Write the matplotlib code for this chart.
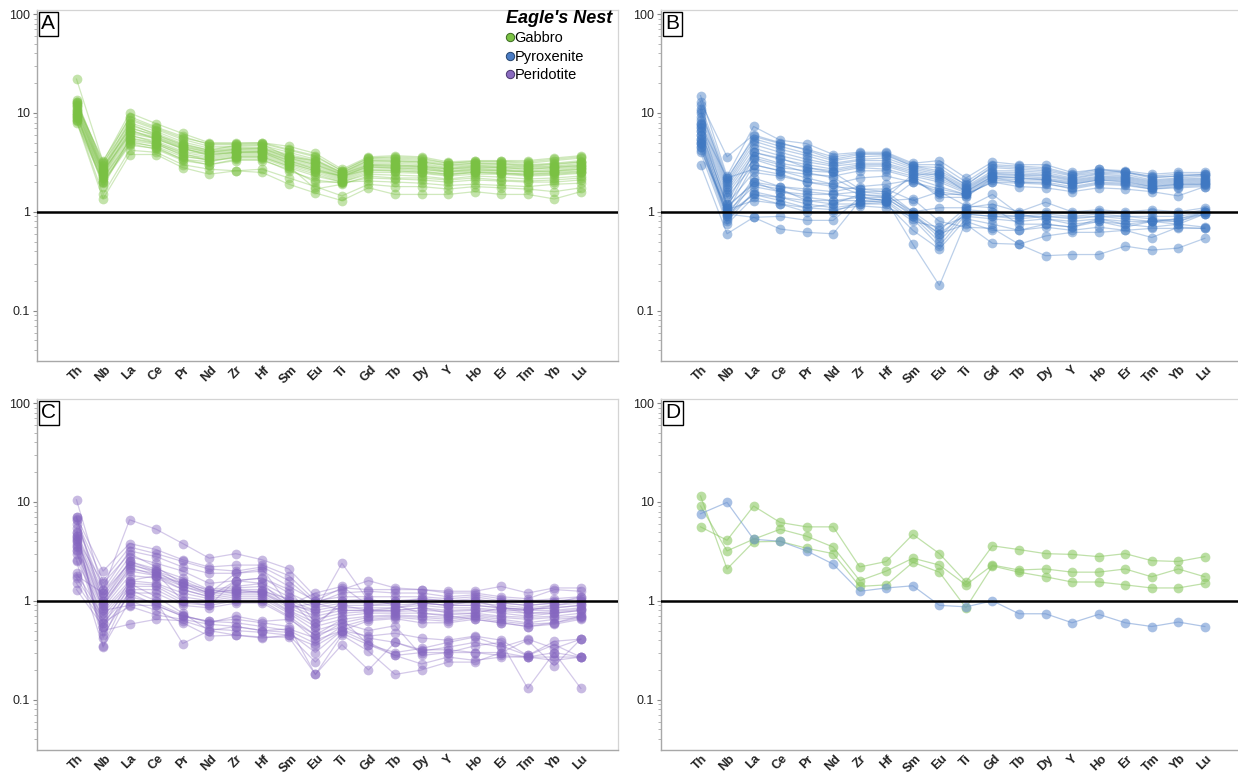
import matplotlib
matplotlib.use('Agg')
import matplotlib.pyplot as plt
import numpy as np
from matplotlib.lines import Line2D
from matplotlib.ticker import LogLocator, NullFormatter

elements = ['Th', 'Nb', 'La', 'Ce', 'Pr', 'Nd', 'Zr', 'Hf', 'Sm', 'Eu',
            'Ti', 'Gd', 'Tb', 'Dy', 'Y', 'Ho', 'Er', 'Tm', 'Yb', 'Lu']

# Panel A - Gabbro (normalised values)
gabbro = [
    [22, 3.2, 10, 7.8, 6.2, 5.0, 5.0, 5.0, 4.6, 3.9, 2.7, 3.6, 3.7, 3.6, 3.2, 3.3, 3.3, 3.3, 3.5, 3.7],
    [13.5, 3.0, 9.2, 7.2, 5.8, 4.8, 4.8, 4.9, 4.2, 3.6, 2.6, 3.5, 3.5, 3.4, 3.1, 3.2, 3.2, 3.1, 3.3, 3.5],
    [12.8, 2.8, 8.5, 6.8, 5.4, 4.6, 4.6, 4.7, 4.0, 3.4, 2.5, 3.4, 3.4, 3.3, 3.0, 3.1, 3.1, 3.0, 3.1, 3.3],
    [12.0, 2.7, 8.0, 6.5, 5.1, 4.4, 4.5, 4.5, 3.8, 3.3, 2.45, 3.3, 3.3, 3.2, 2.9, 3.0, 3.0, 2.9, 3.0, 3.2],
    [11.5, 2.6, 7.5, 6.2, 4.9, 4.2, 4.4, 4.4, 3.7, 3.2, 2.4, 3.2, 3.2, 3.1, 2.8, 2.95, 2.9, 2.85, 2.9, 3.1],
    [11.0, 2.5, 7.0, 6.0, 4.7, 4.1, 4.3, 4.3, 3.6, 3.1, 2.35, 3.1, 3.1, 3.0, 2.75, 2.9, 2.85, 2.8, 2.85, 3.0],
    [10.5, 2.4, 6.6, 5.7, 4.5, 4.0, 4.2, 4.2, 3.5, 3.0, 2.3, 3.0, 3.0, 2.9, 2.7, 2.8, 2.8, 2.7, 2.8, 2.9],
    [10.0, 2.35, 6.2, 5.5, 4.3, 3.9, 4.1, 4.1, 3.4, 2.9, 2.25, 2.95, 2.9, 2.85, 2.6, 2.75, 2.7, 2.6, 2.7, 2.85],
    [9.6, 2.3, 5.9, 5.2, 4.1, 3.8, 4.0, 4.0, 3.3, 2.8, 2.2, 2.9, 2.85, 2.8, 2.55, 2.7, 2.65, 2.55, 2.6, 2.8],
    [9.2, 2.2, 5.6, 5.0, 4.0, 3.6, 3.9, 3.9, 3.2, 2.7, 2.15, 2.8, 2.8, 2.7, 2.5, 2.6, 2.6, 2.5, 2.55, 2.7],
    [8.8, 2.1, 5.3, 4.8, 3.8, 3.5, 3.8, 3.8, 3.1, 2.6, 2.1, 2.7, 2.7, 2.6, 2.4, 2.55, 2.5, 2.4, 2.5, 2.6],
    [8.4, 2.0, 5.0, 4.6, 3.6, 3.4, 3.7, 3.7, 3.0, 2.5, 2.05, 2.6, 2.6, 2.5, 2.35, 2.5, 2.45, 2.35, 2.4, 2.5],
    [8.0, 1.95, 4.7, 4.4, 3.4, 3.2, 3.6, 3.6, 2.9, 2.4, 2.0, 2.5, 2.5, 2.45, 2.3, 2.4, 2.4, 2.3, 2.35, 2.45],
    [12.5, 2.9, 6.8, 5.4, 4.4, 3.7, 4.0, 4.1, 3.3, 2.7, 2.3, 2.85, 2.75, 2.7, 2.55, 2.65, 2.6, 2.55, 2.6, 2.7],
    [13.0, 3.1, 7.8, 6.0, 4.8, 4.2, 4.7, 4.8, 3.6, 3.3, 2.5, 3.3, 3.25, 3.2, 2.95, 3.1, 3.05, 2.95, 3.05, 3.2],
    [10.8, 2.6, 6.0, 5.0, 3.9, 3.3, 3.5, 3.5, 2.8, 2.3, 2.0, 2.4, 2.35, 2.3, 2.15, 2.3, 2.25, 2.15, 2.2, 2.3],
    [9.5, 2.2, 5.2, 4.5, 3.4, 3.0, 3.3, 3.4, 2.6, 2.1, 1.95, 2.2, 2.15, 2.1, 2.0, 2.1, 2.05, 2.0, 2.0, 2.1],
    [8.5, 1.5, 4.2, 4.0, 3.0, 2.7, 2.6, 2.7, 2.2, 1.8, 1.45, 1.9, 1.8, 1.8, 1.7, 1.8, 1.75, 1.7, 1.6, 1.75],
    [8.2, 1.35, 3.8, 3.8, 2.8, 2.4, 2.6, 2.5, 1.9, 1.55, 1.3, 1.75, 1.5, 1.5, 1.5, 1.6, 1.5, 1.5, 1.35, 1.6],
    [11.8, 2.7, 7.2, 5.8, 4.6, 4.0, 4.3, 4.4, 3.5, 3.0, 2.4, 3.0, 2.95, 2.9, 2.7, 2.85, 2.8, 2.7, 2.8, 2.95],
    [10.2, 2.5, 6.4, 5.6, 4.4, 3.8, 4.0, 4.0, 3.1, 2.6, 2.3, 2.65, 2.6, 2.55, 2.4, 2.5, 2.45, 2.4, 2.45, 2.55],
    [9.0, 2.0, 4.9, 4.3, 3.3, 3.0, 3.4, 3.3, 2.7, 2.0, 2.0, 2.05, 2.0, 1.95, 1.85, 1.9, 1.85, 1.8, 1.9, 1.95],
    [12.2, 3.3, 8.8, 7.0, 5.6, 4.9, 4.9, 5.0, 4.3, 3.7, 2.6, 3.5, 3.6, 3.5, 3.1, 3.25, 3.25, 3.2, 3.4, 3.6],
    [9.8, 1.8, 5.5, 4.9, 3.7, 3.3, 3.6, 3.6, 2.9, 1.7, 1.9, 2.3, 2.2, 2.2, 2.1, 2.2, 2.1, 2.05, 2.1, 2.2],
]

# Panel B - Pyroxenite
pyroxenite = [
    [15, 2.3, 7.3, 5.3, 4.9, 3.8, 4.0, 4.0, 3.1, 3.3, 2.2, 3.2, 3.0, 3.0, 2.5, 2.7, 2.6, 2.4, 2.5, 2.5],
    [13, 3.6, 6.0, 5.0, 4.2, 3.4, 3.8, 3.9, 3.0, 3.0, 2.0, 3.0, 2.9, 2.8, 2.4, 2.7, 2.5, 2.3, 2.4, 2.4],
    [12, 2.2, 5.5, 4.6, 3.9, 3.3, 3.6, 3.7, 2.9, 2.6, 1.9, 2.8, 2.7, 2.6, 2.3, 2.5, 2.5, 2.2, 2.3, 2.35],
    [11, 2.0, 5.2, 4.3, 3.7, 3.1, 3.4, 3.5, 2.8, 2.5, 1.8, 2.6, 2.6, 2.5, 2.2, 2.45, 2.4, 2.1, 2.2, 2.3],
    [10, 1.9, 4.8, 4.0, 3.4, 3.0, 3.3, 3.3, 2.7, 2.4, 1.75, 2.5, 2.5, 2.4, 2.15, 2.4, 2.3, 2.05, 2.15, 2.2],
    [9.2, 1.8, 4.4, 3.7, 3.2, 2.9, 3.1, 3.1, 2.6, 2.3, 1.7, 2.45, 2.4, 2.35, 2.1, 2.3, 2.25, 2.0, 2.1, 2.15],
    [8.5, 1.7, 4.0, 3.4, 3.0, 2.7, 3.0, 3.0, 2.5, 2.2, 1.65, 2.4, 2.35, 2.3, 2.05, 2.25, 2.2, 1.95, 2.05, 2.1],
    [7.8, 1.6, 3.7, 3.1, 2.8, 2.6, 2.9, 2.9, 2.4, 2.1, 1.6, 2.3, 2.3, 2.2, 2.0, 2.2, 2.15, 1.9, 2.0, 2.05],
    [7.2, 1.5, 3.4, 2.8, 2.6, 2.5, 2.8, 2.7, 2.3, 2.0, 1.55, 2.25, 2.2, 2.15, 1.95, 2.15, 2.1, 1.85, 1.95, 2.0],
    [6.5, 1.4, 3.0, 2.6, 2.4, 2.3, 2.6, 2.6, 2.2, 1.8, 1.5, 2.2, 2.1, 2.1, 1.9, 2.1, 2.05, 1.8, 1.9, 1.95],
    [6.0, 1.2, 2.5, 2.3, 2.0, 1.9, 2.2, 2.3, 2.0, 1.6, 1.45, 2.1, 2.0, 2.0, 1.8, 2.0, 1.95, 1.75, 1.85, 1.9],
    [5.5, 1.1, 2.0, 1.8, 1.7, 1.6, 1.8, 1.9, 2.1, 1.5, 1.5, 2.0, 1.95, 1.9, 1.75, 1.95, 1.9, 1.7, 1.8, 1.85],
    [5.0, 1.0, 1.8, 1.6, 1.5, 1.5, 1.6, 1.6, 2.2, 1.4, 1.4, 2.2, 2.0, 1.95, 1.7, 1.9, 1.85, 1.7, 1.75, 1.8],
    [4.5, 0.95, 1.5, 1.4, 1.3, 1.3, 1.4, 1.4, 2.4, 2.4, 1.6, 2.3, 2.2, 2.1, 1.9, 2.1, 2.0, 1.8, 1.9, 1.9],
    [4.2, 1.05, 1.3, 1.2, 1.1, 1.2, 1.2, 1.25, 2.0, 1.7, 1.5, 2.0, 1.8, 1.75, 1.6, 1.75, 1.7, 1.6, 1.45, 1.8],
    [10.5, 2.1, 5.8, 4.9, 4.3, 3.6, 3.9, 3.8, 2.9, 2.8, 1.85, 2.9, 2.8, 2.7, 2.35, 2.6, 2.55, 2.25, 2.3, 2.4],
    [8.0, 1.2, 4.0, 3.5, 2.8, 2.5, 1.7, 1.6, 1.0, 0.65, 1.1, 1.2, 1.0, 1.25, 1.0, 1.05, 1.0, 1.05, 1.0, 1.1],
    [7.0, 1.1, 3.5, 3.0, 2.5, 2.2, 1.6, 1.5, 0.95, 0.55, 1.05, 1.0, 0.95, 1.0, 0.95, 1.0, 0.95, 1.0, 0.95, 1.05],
    [6.0, 1.0, 3.0, 2.6, 2.2, 1.9, 1.5, 1.4, 0.9, 0.5, 1.0, 0.95, 0.9, 0.95, 0.9, 0.95, 0.9, 0.9, 0.9, 1.0],
    [5.5, 0.9, 2.2, 1.8, 1.6, 1.5, 1.4, 1.3, 0.85, 0.45, 0.95, 0.9, 0.85, 0.9, 0.85, 0.9, 0.85, 0.8, 0.85, 0.95],
    [5.0, 0.85, 2.0, 1.6, 1.4, 1.3, 1.3, 1.25, 0.8, 0.7, 0.9, 0.85, 0.8, 0.85, 0.8, 0.85, 0.8, 0.8, 0.8, 0.95],
    [4.5, 0.8, 1.6, 1.4, 1.2, 1.1, 1.2, 1.2, 0.65, 0.42, 0.85, 0.75, 0.65, 0.75, 0.7, 0.8, 0.75, 0.7, 0.75, 0.7],
    [4.0, 0.75, 1.4, 1.2, 1.0, 1.0, 1.25, 1.3, 0.47, 0.18, 0.8, 0.65, 0.65, 0.7, 0.65, 0.7, 0.65, 0.55, 0.7, 0.68],
    [3.0, 0.6, 0.88, 0.67, 0.62, 0.6, 1.3, 1.35, 0.95, 0.6, 0.75, 0.48, 0.47, 0.57, 0.62, 0.62, 0.65, 0.68, 0.68, 0.68],
    [5.2, 0.95, 0.88, 0.9, 0.82, 0.82, 1.4, 1.3, 1.35, 0.8, 0.7, 0.68, 0.47, 0.36, 0.37, 0.37, 0.45, 0.41, 0.43, 0.54],
    [6.5, 1.15, 1.9, 1.7, 1.3, 1.2, 1.5, 1.45, 1.0, 1.1, 1.1, 1.5, 0.95, 0.85, 0.75, 0.8, 0.7, 0.8, 0.85, 1.0],
    [7.5, 2.2, 2.7, 2.4, 2.0, 1.8, 1.7, 1.7, 1.3, 1.6, 1.15, 1.1, 0.75, 0.75, 0.7, 0.85, 0.75, 0.8, 0.75, 0.95],
    [4.8, 0.9, 1.5, 1.3, 1.1, 1.05, 1.15, 1.1, 0.9, 0.6, 0.95, 0.9, 0.9, 0.9, 0.88, 0.9, 0.9, 0.85, 0.8, 1.0],
]

# Panel C - Peridotite
peridotite = [
    [10.5, 1.3, 6.6, 5.3, 3.8, 2.7, 3.0, 2.6, 2.1, 1.1, 1.3, 1.6, 1.35, 1.3, 1.25, 1.25, 1.4, 1.2, 1.35, 1.35],
    [7.0, 2.0, 3.8, 3.3, 2.6, 2.2, 2.3, 2.3, 1.8, 1.0, 1.35, 1.3, 1.3, 1.3, 1.2, 1.2, 1.1, 1.05, 1.3, 1.25],
    [6.5, 1.6, 3.5, 3.0, 2.5, 2.1, 2.0, 2.2, 1.6, 0.95, 1.2, 1.25, 1.2, 1.2, 1.1, 1.15, 1.05, 1.0, 1.05, 1.1],
    [6.0, 1.3, 3.2, 2.8, 2.2, 1.9, 1.9, 2.0, 1.4, 1.0, 1.1, 1.1, 1.1, 1.1, 1.05, 1.1, 1.0, 0.95, 1.0, 1.05],
    [5.0, 1.2, 2.8, 2.4, 2.0, 1.5, 1.6, 1.7, 1.2, 0.9, 1.0, 1.0, 1.0, 1.05, 1.0, 1.0, 0.95, 0.9, 0.95, 1.0],
    [4.5, 1.1, 2.5, 2.1, 1.7, 1.3, 1.4, 1.5, 1.1, 0.85, 0.95, 0.95, 0.95, 1.0, 0.95, 0.95, 0.9, 0.85, 0.9, 0.95],
    [4.2, 1.0, 2.3, 2.0, 1.6, 1.25, 1.35, 1.4, 1.0, 0.8, 0.9, 0.9, 0.9, 0.95, 0.9, 0.9, 0.85, 0.82, 0.85, 0.9],
    [4.0, 0.95, 2.1, 1.9, 1.5, 1.2, 1.3, 1.3, 0.95, 0.75, 0.85, 0.85, 0.85, 0.9, 0.85, 0.85, 0.8, 0.8, 0.8, 0.85],
    [3.6, 0.9, 2.0, 1.8, 1.4, 1.15, 1.25, 1.25, 0.9, 0.7, 0.8, 0.8, 0.8, 0.85, 0.8, 0.82, 0.78, 0.75, 0.78, 0.82],
    [3.3, 0.85, 1.8, 1.7, 1.3, 1.1, 1.2, 1.2, 0.85, 0.65, 0.75, 0.78, 0.78, 0.8, 0.78, 0.8, 0.75, 0.7, 0.75, 0.8],
    [3.0, 0.8, 1.6, 1.5, 1.2, 1.05, 1.15, 1.15, 0.8, 0.6, 0.7, 0.75, 0.75, 0.75, 0.72, 0.75, 0.7, 0.68, 0.7, 0.75],
    [2.6, 0.75, 1.5, 1.45, 1.1, 1.0, 1.1, 1.1, 0.78, 0.55, 0.65, 0.7, 0.72, 0.7, 0.68, 0.72, 0.68, 0.65, 0.68, 0.7],
    [1.9, 0.7, 1.4, 1.4, 1.0, 0.95, 1.05, 1.05, 0.75, 0.5, 0.6, 0.68, 0.7, 0.68, 0.65, 0.7, 0.65, 0.6, 0.65, 0.68],
    [1.7, 0.65, 1.3, 1.3, 0.95, 0.9, 1.0, 1.0, 0.7, 0.45, 0.55, 0.65, 0.68, 0.65, 0.62, 0.68, 0.62, 0.58, 0.6, 0.67],
    [1.5, 0.6, 1.2, 1.2, 0.9, 0.85, 0.95, 0.95, 0.68, 0.4, 0.5, 0.63, 0.66, 0.6, 0.6, 0.65, 0.6, 0.55, 0.58, 0.65],
    [1.3, 0.55, 1.6, 1.8, 1.5, 1.2, 1.3, 1.2, 0.9, 0.8, 2.4, 1.0, 1.0, 0.95, 0.9, 0.9, 0.85, 0.82, 0.85, 0.9],
    [7.0, 1.0, 2.5, 2.0, 1.4, 1.2, 1.9, 2.1, 0.9, 1.2, 1.4, 0.9, 0.95, 1.05, 1.0, 1.05, 0.95, 0.9, 0.95, 1.1],
    [6.8, 0.9, 2.2, 1.8, 1.3, 1.1, 1.6, 1.5, 0.85, 0.95, 0.8, 0.8, 0.85, 0.95, 0.9, 1.0, 0.85, 0.8, 0.9, 1.0],
    [4.5, 0.8, 0.9, 0.9, 0.7, 0.62, 0.6, 0.55, 0.5, 0.37, 0.55, 0.42, 0.38, 0.32, 0.32, 0.3, 0.3, 0.27, 0.27, 0.27],
    [4.0, 0.6, 0.88, 0.72, 0.65, 0.58, 0.55, 0.5, 0.48, 0.3, 0.5, 0.38, 0.28, 0.3, 0.3, 0.3, 0.28, 0.27, 0.3, 0.27],
    [3.5, 0.5, 0.58, 0.65, 0.63, 0.52, 0.5, 0.48, 0.45, 0.24, 0.47, 0.36, 0.28, 0.23, 0.27, 0.25, 0.27, 0.27, 0.25, 0.27],
    [3.2, 0.45, 1.2, 0.9, 0.7, 0.62, 0.65, 0.6, 0.55, 0.18, 0.45, 0.31, 0.18, 0.2, 0.24, 0.24, 0.3, 0.4, 0.22, 0.41],
    [4.8, 0.42, 1.5, 1.1, 0.75, 0.5, 0.45, 0.43, 0.43, 0.18, 0.36, 0.2, 0.38, 0.31, 0.34, 0.38, 0.34, 0.41, 0.33, 0.41],
    [2.5, 0.34, 1.0, 0.8, 0.6, 0.44, 0.45, 0.42, 0.45, 0.35, 0.5, 0.44, 0.47, 0.42, 0.4, 0.44, 0.4, 0.28, 0.36, 0.27],
    [5.5, 0.35, 1.3, 1.0, 0.37, 0.5, 0.55, 0.5, 0.52, 0.42, 0.6, 0.5, 0.56, 0.28, 0.3, 0.35, 0.38, 0.13, 0.3, 0.13],
    [3.8, 0.55, 1.1, 0.95, 0.72, 0.6, 0.7, 0.62, 0.65, 0.45, 0.65, 0.36, 0.3, 0.33, 0.38, 0.43, 0.35, 0.28, 0.39, 0.41],
    [1.8, 1.2, 2.4, 1.9, 1.0, 0.9, 1.6, 1.7, 1.3, 0.6, 0.9, 0.8, 0.8, 0.85, 0.75, 0.75, 0.85, 0.75, 0.75, 0.8],
    [4.3, 1.5, 3.0, 2.2, 1.5, 1.3, 1.2, 1.25, 1.05, 0.55, 1.0, 1.05, 0.9, 0.75, 0.7, 0.65, 0.6, 0.55, 0.6, 0.7],
]

# Panel D - selected samples
d_gabbro = [
    [5.6, 4.1, 9.1, 6.2, 5.6, 5.6, 2.2, 2.5, 4.7, 3.0, 1.55, 3.6, 3.3, 3.0, 2.95, 2.8, 3.0, 2.55, 2.5, 2.8],
    [9.1, 3.2, 4.2, 5.3, 4.5, 3.5, 1.6, 2.0, 2.7, 2.3, 1.45, 2.3, 2.05, 2.1, 1.95, 1.95, 2.1, 1.75, 2.1, 1.75],
    [11.5, 2.1, 3.95, 4.0, 3.4, 3.0, 1.4, 1.45, 2.45, 1.95, 0.85, 2.25, 1.95, 1.75, 1.55, 1.55, 1.45, 1.35, 1.35, 1.5],
]
d_pyroxenite = [
    [7.6, 9.9, 4.2, 4.0, 3.2, 2.35, 1.25, 1.35, 1.42, 0.9, 0.87, 1.0, 0.74, 0.74, 0.6, 0.73, 0.6, 0.55, 0.61, 0.55],
]

plt.rcParams['font.family'] = ['Liberation Sans', 'DejaVu Sans']

W, H = 1238.0, 774.0
fig = plt.figure(figsize=(W / 100, H / 100), dpi=100)
fig.patch.set_facecolor('white')

aw = 581.3 / W
ah = 351.0 / H
pos = {
    'A': [36.7 / W, 1 - 361 / H, aw, ah],
    'B': [660.7 / W, 1 - 361 / H, aw, ah],
    'C': [36.7 / W, 1 - 750 / H, aw, ah],
    'D': [660.7 / W, 1 - 750 / H, aw, ah],
}

x = np.arange(len(elements))


def style(ax, label):
    ax.set_yscale('log')
    ax.set_ylim(0.031, 110)
    ax.set_xlim(-1.5, 20.4)
    ax.set_xticks(x)
    ax.set_xticklabels(elements, rotation=45, ha='center', fontsize=9,
                       fontweight='bold', color='#222222')
    ax.set_yticks([0.1, 1, 10, 100])
    ax.set_yticklabels(['0.1', '1', '10', '100'])
    ax.yaxis.set_minor_locator(LogLocator(base=10, subs=np.arange(2, 10)))
    ax.yaxis.set_minor_formatter(NullFormatter())
    ax.tick_params(axis='x', length=0, pad=2)
    ax.tick_params(axis='y', which='major', length=3, width=0.8,
                   color='#888888', labelsize=9, pad=2, labelcolor='#222222')
    ax.tick_params(axis='y', which='minor', length=2, width=0.6, color='#aaaaaa')
    for s in ['top', 'right']:
        ax.spines[s].set_color('#d4d4d4')
        ax.spines[s].set_linewidth(0.9)
    for s in ['left', 'bottom']:
        ax.spines[s].set_color('#a8a8a8')
        ax.spines[s].set_linewidth(1.0)
    ax.axhline(1, color='black', lw=1.8, zorder=5)
    ax.text(0.008, 0.988, label, transform=ax.transAxes, fontsize=15,
            va='top', ha='left', zorder=6,
            bbox=dict(boxstyle='square,pad=0.12', fc='white', ec='black', lw=1.0))


def draw(ax, data, color, lalpha=0.35, malpha=0.45):
    for row in data:
        ax.plot(x, row, '-', color=color, lw=0.9, alpha=lalpha, zorder=2)
        ax.plot(x, row, 'o', color=color, ms=7, mec='none', alpha=malpha, zorder=3)


green = '#7ac143'
blue = '#3f78c2'
purple = '#8566c0'

axA = fig.add_axes(pos['A'])
style(axA, 'A')
draw(axA, gabbro, green)
handles = [
    Line2D([], [], marker='o', ls='none', color='#7ac143', mec='#3a6a20', mew=0.7, ms=6, label='Gabbro'),
    Line2D([], [], marker='o', ls='none', color='#4a7cc4', mec='#24446e', mew=0.7, ms=6, label='Pyroxenite'),
    Line2D([], [], marker='o', ls='none', color='#8a6bbf', mec='#4a3670', mew=0.7, ms=6, label='Peridotite'),
]
leg = axA.legend(handles=handles, loc='upper right', bbox_to_anchor=(1.005, 1.025),
                 frameon=False, title="Eagle's Nest", alignment='left',
                 handlelength=0.5, handletextpad=0.1, labelspacing=0.3,
                 borderpad=0.1, fontsize=10.5,
                 title_fontproperties={'weight': 'bold', 'style': 'italic', 'size': 13})

axB = fig.add_axes(pos['B'])
style(axB, 'B')
draw(axB, pyroxenite, blue)

axC = fig.add_axes(pos['C'])
style(axC, 'C')
draw(axC, peridotite, purple)

axD = fig.add_axes(pos['D'])
style(axD, 'D')
draw(axD, d_gabbro, '#8cc864', lalpha=0.55, malpha=0.6)
draw(axD, d_pyroxenite, '#6f96d2', lalpha=0.55, malpha=0.6)

fig.savefig('out.png', dpi=100, facecolor='white')
